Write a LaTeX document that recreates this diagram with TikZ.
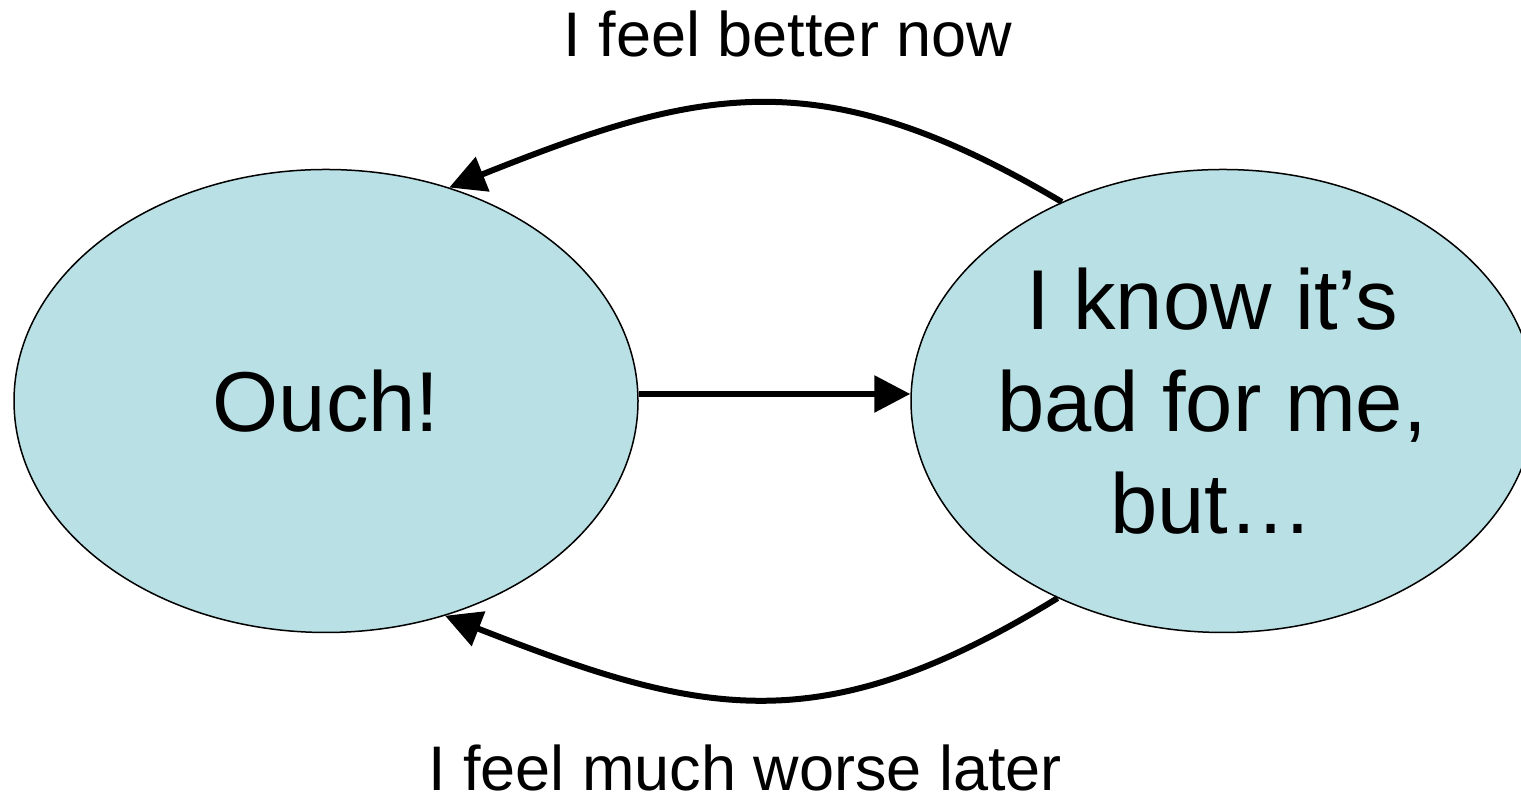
\documentclass[tikz,border=0pt]{standalone}
\usepackage{fontspec}
\setmainfont{Liberation Sans}
\usepackage{tikz}
\usetikzlibrary{shapes}
\usetikzlibrary{positioning, arrows.meta}
\definecolor{blobfill}{RGB}{185,224,228}
\tikzset{
  blob/.style={ellipse, draw=black, line width=0.75pt, fill=blobfill, minimum width=312pt, minimum height=231.5pt, inner sep=0pt},
  bigtext/.style={font=\fontsize{42.5pt}{51pt}\selectfont, align=center},
  note/.style={font=\fontsize{31.5pt}{38pt}\selectfont, anchor=base, inner sep=1pt},
  link/.style={black, line width=3pt, -{Triangle[length=18pt, width=18pt]}}
}

\begin{document}
\begin{tikzpicture}[x=0.5pt, y=0.5pt]
          \useasboundingbox (0, 0) rectangle (1521, 806);
          \node[blob, bigtext] at (326, 405) (ouch) {Ouch!};
          \node[blob] at (1223, 405) (knowit) {};
          \node[bigtext] at (1212, 405) (knowtext) {I know it’s\\ bad for me,\\ but…};
          \node[note] at (788, 749) (better) {I feel better now};
          \node[note] at (745, 15) (worse) {I feel much worse later};
          \draw[link] ([yshift=3.5pt]ouch.east) -- ([yshift=3.5pt]knowit.west);
          \draw[link] 
            (knowit.129.7) .. controls (819, 748) and (699, 718) .. (ouch.60.7);
          \draw[link] 
            (knowit.230.3) .. controls (819, 61) and (699, 91) .. (ouch.299.3);
        \end{tikzpicture}
\end{document}
